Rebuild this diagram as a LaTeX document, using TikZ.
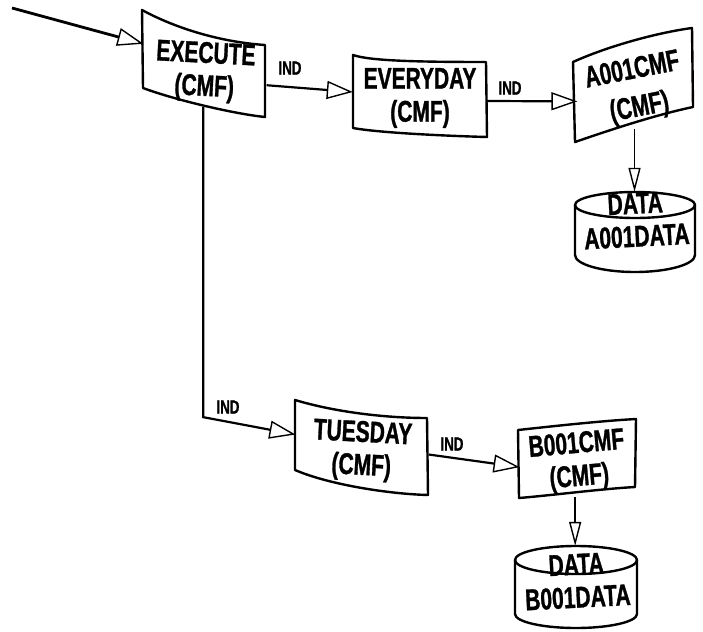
\documentclass[tikz,border=0pt]{standalone}
\usepackage{fontspec}
\setmainfont{Liberation Sans}[FakeStretch=0.7, BoldFeatures={FakeBold=1}]
\usetikzlibrary{arrows.meta}

\begin{document}
\begin{tikzpicture}[x=1pt, y=-1pt,
    card/.style={line width=2.4pt, line join=round},
    lbl/.style={font=\fontsize{30}{33}\selectfont\bfseries, align=center, inner sep=0pt},
    ind/.style={font=\fontsize{19}{20}\selectfont\bfseries, inner sep=0pt},
    flow/.style={line width=2.2pt, -{Triangle[open, line width=1.4pt, length=26pt, width=18pt]}},
    drop/.style={line width=1.6pt, -{Triangle[open, line width=1.4pt, length=24pt, width=12pt]}}]
        \useasboundingbox (0,0) rectangle (703,631);

        % Warped cards
        \draw[card] (142,10) .. controls (175,28) and (220,42) .. (265,45) -- (265,117)
              .. controls (235,114) and (175,100) .. (143,88) -- cycle;
        \draw[card] (353,55) .. controls (370,61) and (420,62) .. (486,62) -- (487,137)
              .. controls (450,136) and (380,133) .. (353,128) -- cycle;
        \draw[card] (573,62) .. controls (606,47) and (655,33) .. (692,28) -- (693,107)
              .. controls (655,115) and (610,130) .. (575,142) -- cycle;
        \draw[card] (295,400) .. controls (335,412) and (385,418) .. (427,418) -- (428,495)
              .. controls (390,494) and (330,485) .. (295,470) -- cycle;
        \draw[card] (518,430) .. controls (555,426) and (600,421) .. (636,419) -- (635,487)
              .. controls (600,489) and (555,495) .. (519,498) -- cycle;

        % Data sets
        \draw[card] (635,205) ellipse [x radius=60, y radius=13];
        \draw[card] (575,205) -- (575,255) arc [start angle=180, end angle=0, x radius=60, y radius=17] -- (695,205);
        \draw[card] (576,560) ellipse [x radius=61, y radius=14];
        \draw[card] (515,560) -- (515,614) arc [start angle=180, end angle=0, x radius=61, y radius=14] -- (637,560);

        % Texts
        \node[lbl, minimum width=123pt, minimum height=70pt, rotate=-3] (exec) at (205,72) {EXECUTE\\(CMF)};
        \node[lbl, minimum width=134pt] (every) at (420,98) {EVERYDAY\\(CMF)};
        \node[lbl, font=\fontsize{30}{38}\selectfont\bfseries, minimum width=119pt, minimum height=80pt, rotate=11] (a001) at (636,90) {A001CMF\\(CMF)};
        \node[lbl, minimum width=133pt, rotate=-3] (tue) at (362,451) {TUESDAY\\(CMF)};
        \node[lbl, minimum width=117pt, minimum height=70pt, rotate=5] (b001) at (578,462) {B001CMF\\(CMF)};
        \node[lbl, minimum height=56pt, rotate=3] (adata) at (636,220) {DATA\\A001DATA};
        \node[lbl, minimum height=70pt, rotate=3] (bdata) at (577,581) {DATA\\B001DATA};

        \node[ind] (ind1) at (290,68) {IND};
        \node[ind] (ind2) at (510,88) {IND};
        \node[ind] (ind3) at (228,407) {IND};
        \node[ind] (ind4) at (452,444) {IND};

        % Flow arrows
        \coordinate (start) at (12,8);
        \draw[flow, line width=2.8pt] (start) -- ([yshift=25pt]exec.west);
        \draw[flow] ([yshift=-10pt]exec.east) -- ([yshift=6pt]every.west);
        \draw[flow] ([yshift=-3pt]every.east) -- (a001.west);
        \draw[flow] (exec.south) -- ++(0,310) -- ([yshift=13pt]tue.west);
        \draw[flow] (tue.east) -- (b001.west);
        \draw[drop] (adata.north |- a001.south) -- (adata.north);
        \draw[drop] (bdata.north |- b001.south) -- (bdata.north);
      \end{tikzpicture}
\end{document}
